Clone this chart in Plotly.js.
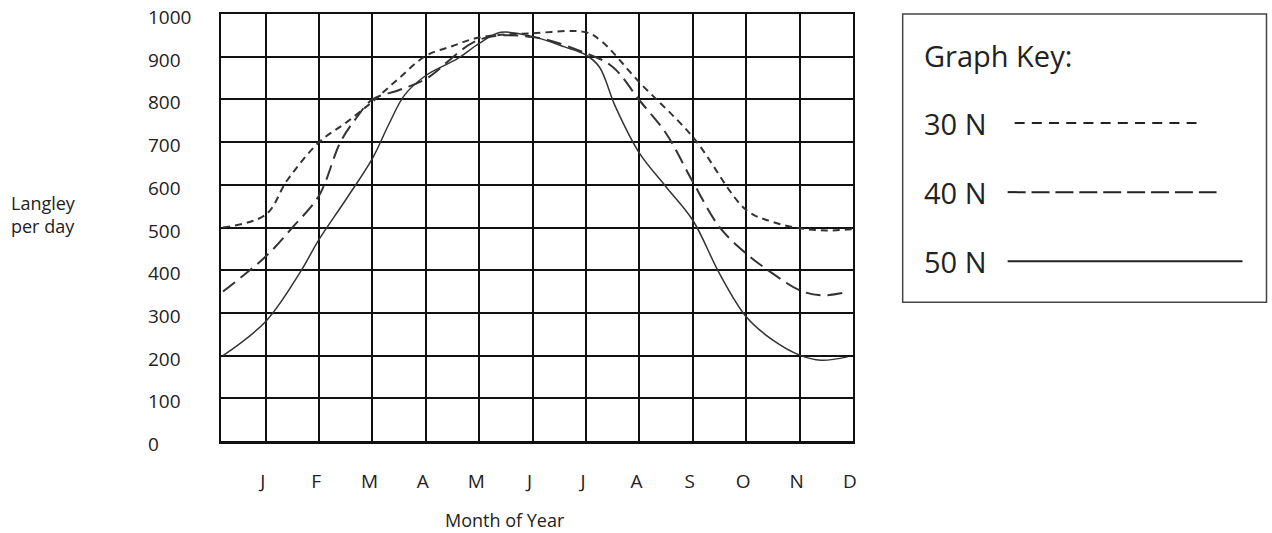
<!DOCTYPE html>
<html>
<head>
<meta charset="utf-8">
<script src="https://cdn.plot.ly/plotly-3.0.1.min.js"></script>
<style>html,body{margin:0;padding:0;background:#fff;}#chart{width:1272px;height:533px;}</style>
</head>
<body>
<div id="chart"></div>
<script>
// Month tick positions and labels
const monthPos = [1,2,3,4,5,6,7,8,9,10,11,12];
const monthLabels = ['J','F','M','A','M','J','J','A','S','O','N','D'];
const yTicks = [0,100,200,300,400,500,600,700,800,900,1000];

// Series (x = month position, fractional between grid lines)
const x30 = [0.2, 1, 1.4, 2, 2.5, 3, 3.5, 4, 4.5, 5, 6, 7, 7.3, 8, 9, 10, 10.5, 11, 11.5, 12];
const y30 = [500, 530, 610, 700, 745, 795, 850, 902, 925, 945, 955, 957, 935, 840, 712, 541, 513, 498, 493, 496];

const x40 = [0.2, 1, 1.5, 2, 2.4, 2.7, 3, 3.5, 4, 5, 6, 7, 7.5, 8, 8.5, 9, 9.5, 10, 10.5, 11, 11.4, 11.9];
const y40 = [350, 432, 500, 575, 700, 757, 800, 822, 848, 940, 946, 908, 876, 798, 720, 607, 501, 439, 392, 353, 341, 349];

const x50 = [0.2, 1, 1.65, 2, 2.5, 3, 3.3, 3.6, 4, 4.6, 5, 5.4, 6, 6.6, 7, 7.25, 7.55, 8, 8.5, 9, 9.5, 10, 10.5, 11, 11.4, 11.9];
const y50 = [200, 280, 396, 472, 565, 662, 740, 810, 856, 896, 931, 957, 947, 923, 904, 876, 783, 674, 595, 517, 392, 291, 236, 201, 189, 197];

const seriesNames = ['30 N','40 N','50 N'];

const lineColor = '#333333';
const traces = [
  {x: x30, y: y30, name: seriesNames[0], mode: 'lines', line: {color: lineColor, width: 2, dash: '7px,5px', shape: 'spline', smoothing: 1}},
  {x: x40, y: y40, name: seriesNames[1], mode: 'lines', line: {color: lineColor, width: 2, dash: '15px,7px', shape: 'spline', smoothing: 1}},
  {x: x50, y: y50, name: seriesNames[2], mode: 'lines', line: {color: lineColor, width: 1.5, shape: 'spline', smoothing: 1}}
];

const FONT = '"Open Sans", sans-serif';
const TXT = '#222222';

// plot area in pixels
const L = 221, R = 853.3, T = 14, B = 440.7, W = 1272, H = 533;
const pw = R - L, ph = B - T;
const px = v => (v - L) / pw;          // pixel x -> paper x
const py = v => (B - v) / ph;          // pixel y -> paper y

const annotations = [];
yTicks.forEach(v => annotations.push({
  xref: 'paper', yref: 'y', x: px(146), y: v, xanchor: 'left', yanchor: 'middle', yshift: -3,
  text: String(v), showarrow: false, font: {family: FONT, size: 19, color: TXT}
}));
annotations.push({xref: 'paper', yref: 'paper', x: px(9), y: py(214), xanchor: 'left', yanchor: 'middle',
  text: 'Langley<br>per day', align: 'left', showarrow: false, font: {family: FONT, size: 18, color: TXT}});
annotations.push({xref: 'paper', yref: 'paper', x: px(505), y: py(520), xanchor: 'center', yanchor: 'middle',
  text: 'Month of Year', showarrow: false, font: {family: FONT, size: 18, color: TXT}});

// Legend ("Graph Key")
annotations.push({xref: 'paper', yref: 'paper', x: px(922), y: py(55), xanchor: 'left', yanchor: 'middle',
  text: 'Graph Key:', showarrow: false, font: {family: FONT, size: 29, color: TXT}});
const keyY = [123, 192, 261];
const keyLineX = [[1015, 1197], [1008, 1217], [1008, 1243]];
const keyDash = ['10px,7.2px', '18px,5.9px', 'solid'];
seriesNames.forEach((n, i) => annotations.push({xref: 'paper', yref: 'paper', x: px(922), y: py(keyY[i]),
  xanchor: 'left', yanchor: 'middle', text: n, showarrow: false, font: {family: FONT, size: 29, color: TXT}}));

const shapes = [
  {type: 'rect', xref: 'paper', yref: 'paper', x0: px(903), x1: px(1267), y0: py(14), y1: py(302),
   line: {color: '#444', width: 1.5}, fillcolor: 'rgba(0,0,0,0)'}
];
seriesNames.forEach((n, i) => shapes.push({type: 'line', xref: 'paper', yref: 'paper',
  x0: px(keyLineX[i][0]), x1: px(keyLineX[i][1]), y0: py(keyY[i]), y1: py(keyY[i]),
  line: {color: '#222', width: 2, dash: keyDash[i]}}));

const layout = {
  width: W, height: H,
  margin: {l: L, r: W - R, t: T, b: H - B, pad: 0},
  paper_bgcolor: '#fff', plot_bgcolor: '#fff',
  showlegend: false,
  font: {family: FONT, color: TXT},
  xaxis: {
    range: [0.163, 12], tickvals: monthPos, ticktext: monthLabels,
    showgrid: true, gridcolor: '#111', gridwidth: 2,
    showline: true, linecolor: '#111', linewidth: 2.5, mirror: true,
    zeroline: false, ticks: '', ticklabelstandoff: 22, ticklabelshift: -3,
    tickfont: {family: FONT, size: 19, color: TXT}
  },
  yaxis: {
    range: [0, 1000], tickvals: yTicks, showticklabels: false,
    showgrid: true, gridcolor: '#111', gridwidth: 2,
    showline: true, linecolor: '#111', linewidth: 2, mirror: true,
    zeroline: false, ticks: ''
  },
  annotations: annotations,
  shapes: shapes
};

Plotly.newPlot('chart', traces, layout, {displayModeBar: false, staticPlot: true});
</script>
</body>
</html>
